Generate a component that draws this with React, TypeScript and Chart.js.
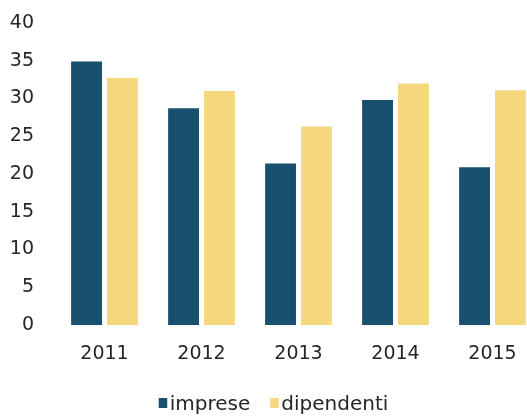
import React, { useEffect, useRef } from "react";
import { Chart, registerables } from "chart.js";

Chart.register(...registerables);

const categories = ["2011", "2012", "2013", "2014", "2015"];
const impreseValues = [34.9, 28.7, 21.4, 29.8, 20.9];
const dipendentiValues = [32.7, 31.0, 26.3, 32.0, 31.1];
const seriesLabels = ["imprese", "dipendenti"];
const yMin = 0;
const yMax = 40;
const yStep = 5;

const DARK = "#19506f";
const YELLOW = "#f5d87e";
const FONT = "'DejaVu Sans', sans-serif";
const TEXT = "#262626";

const legendPlugin = {
  id: "customLegend",
  afterDraw(chart: any) {
    const ctx = chart.ctx;
    const ds = chart.data.datasets;
    ctx.save();
    ctx.font = `20px ${FONT}`;
    const boxW = 8.5;
    const boxH = 10;
    const boxGap = 2.5;
    const itemGap = 20;
    const widths = ds.map((d: any) => ctx.measureText(d.label).width);
    const total =
      widths.reduce((a: number, b: number) => a + b, 0) +
      ds.length * (boxW + boxGap) +
      (ds.length - 1) * itemGap;
    let x = chart.width / 2 + 3 - total / 2;
    const baseline = 410;
    ds.forEach((d: any, i: number) => {
      ctx.fillStyle = d.backgroundColor;
      ctx.fillRect(x, baseline - 12, boxW, boxH);
      x += boxW + boxGap;
      ctx.fillStyle = TEXT;
      ctx.textBaseline = "alphabetic";
      ctx.textAlign = "left";
      ctx.fillText(d.label, x, baseline);
      x += widths[i] + itemGap;
    });
    ctx.restore();
  },
};

export default function App() {
  const ref = useRef<HTMLCanvasElement | null>(null);
  useEffect(() => {
    if (!ref.current) return;
    const chart = new Chart(ref.current, {
      type: "bar",
      data: {
        labels: categories,
        datasets: [
          {
            label: seriesLabels[0],
            data: impreseValues,
            backgroundColor: DARK,
            categoryPercentage: 0.74,
            barPercentage: 0.86,
          },
          {
            label: seriesLabels[1],
            data: dipendentiValues,
            backgroundColor: YELLOW,
            categoryPercentage: 0.74,
            barPercentage: 0.86,
          },
        ],
      },
      options: {
        responsive: false,
        animation: false,
        layout: { padding: { top: 23, bottom: 40, left: 0, right: 0 } },
        plugins: {
          legend: { display: false },
          tooltip: { enabled: false },
        },
        scales: {
          x: {
            grid: { display: false },
            border: { display: false },
            ticks: {
              color: TEXT,
              font: { family: FONT, size: 19 },
              padding: 10,
              maxRotation: 0,
            },
            afterFit(scale: any) {
              scale.height = 51;
              scale.paddingLeft = 0;
              scale.paddingRight = 0;
            },
          },
          y: {
            min: yMin,
            max: yMax,
            grid: { display: false },
            border: { display: false },
            ticks: {
              stepSize: yStep,
              color: TEXT,
              font: { family: FONT, size: 19 },
              padding: 14,
            },
            afterFit(scale: any) {
              scale.width = 56;
              scale.paddingTop = 0;
              scale.paddingBottom = 0;
            },
          },
        },
      },
      plugins: [legendPlugin],
    });
    return () => chart.destroy();
  }, []);
  return (
    <div
      style={{
        position: "fixed",
        left: 0,
        top: 0,
        width: 527,
        height: 416,
        overflow: "hidden",
        background: "#fff",
      }}
    >
      <canvas ref={ref} width={541} height={416} style={{ display: "block" }} />
    </div>
  );
}
